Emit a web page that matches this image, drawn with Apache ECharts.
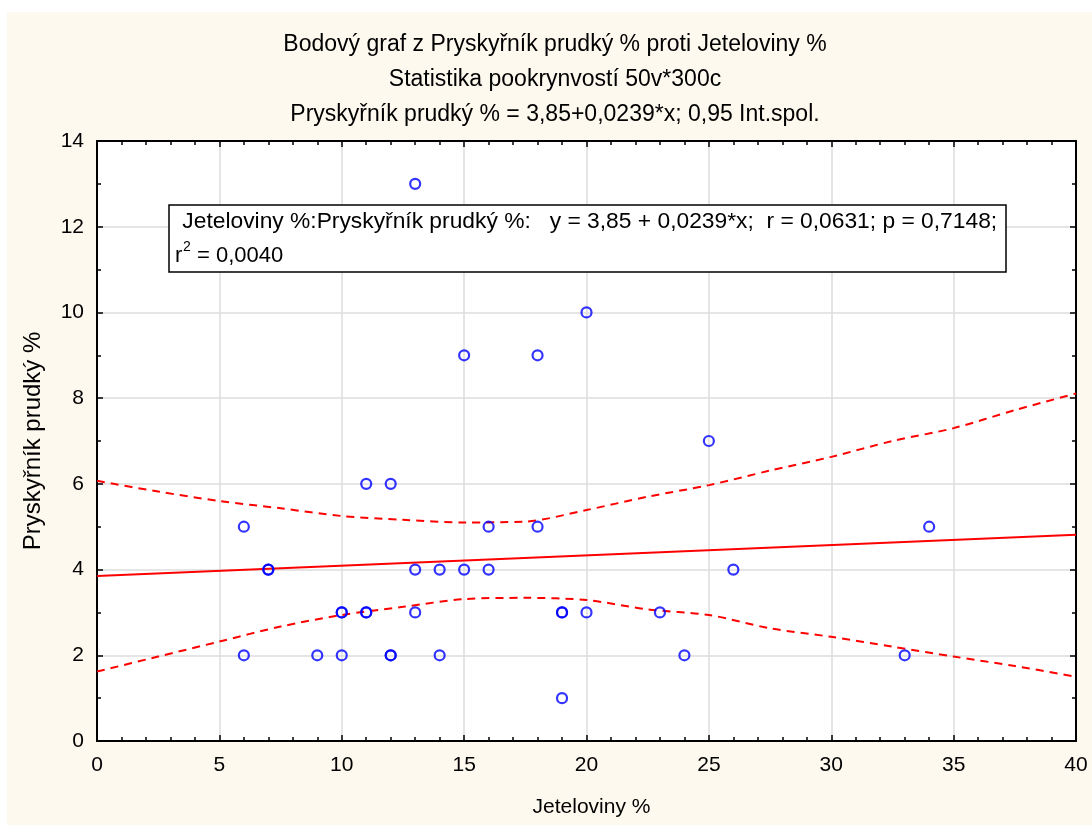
<!DOCTYPE html>
<html><head><meta charset="utf-8">
<script src="https://cdn.jsdelivr.net/npm/echarts@6/dist/echarts.min.js"></script>
<style>html,body{margin:0;padding:0;background:#fff}#c{width:1092px;height:828px}</style>
</head><body><div id="c"></div>
<script>
// Data
const jeteloviny = [13,20,15,18,25,11,12,6,16,18,34,7,7,13,14,15,16,26,10,10,11,11,13,19,19,20,23,6,9,10,12,12,14,24,33,19];
const pryskyrnik = [13,10,9,9,7,6,6,5,5,5,5,4,4,4,4,4,4,4,3,3,3,3,3,3,3,3,3,2,2,2,2,2,2,2,2,1];
const fitX = [0, 40];
const fitY = [3.85, 4.81];
const bandX = [0, 2.5, 5, 7.5, 10, 12.5, 15, 17.5, 20, 22.5, 25, 27.5, 30, 32.5, 35, 37.5, 40];
const bandUpper = [6.07, 5.82, 5.60, 5.43, 5.25, 5.16, 5.10, 5.12, 5.39, 5.70, 5.97, 6.31, 6.63, 7.00, 7.30, 7.72, 8.11];
const bandLower = [1.62, 1.97, 2.32, 2.67, 2.94, 3.13, 3.31, 3.34, 3.29, 3.07, 2.94, 2.63, 2.43, 2.20, 1.97, 1.75, 1.50];
const xTicks = ['0','5','10','15','20','25','30','35','40'];
const yTicks = ['0','2','4','6','8','10','12','14'];
const titleLines = ['Bodový graf z Pryskyřník prudký % proti Jeteloviny %','Statistika pookrynvostí 50v*300c','Pryskyřník prudký % = 3,85+0,0239*x; 0,95 Int.spol.'];
const boxLine1 = ' Jeteloviny %:Pryskyřník prudký %:   y = 3,85 + 0,0239*x;  r = 0,0631; p = 0,7148;';

const FF = '"Liberation Sans", Arial, sans-serif';
const chart = echarts.init(document.getElementById('c'));
const zip = (a, b) => a.map((v, i) => [v, b[i]]);
const axisCommon = {
  type: 'value', min: 0,
  axisLine: {show: true, onZero: false, lineStyle: {color: '#000', width: 2}},
  axisTick: {show: true, inside: true, length: 6, lineStyle: {color: '#000', width: 1.5}},
  minorTick: {show: true, length: 4, lineStyle: {color: '#000', width: 1.5}}
};
chart.setOption({
  backgroundColor: '#ffffff',
  animation: false,
  textStyle: {fontFamily: FF},
  graphic: [
    {type: 'rect', z: -100, silent: true, shape: {x: 7, y: 12, width: 1085, height: 813}, style: {fill: '#fef9ef'}},
    {type: 'text', z: 100, x: 555, y: 45, style: {text: titleLines[0], font: '23px ' + FF, fill: '#000', align: 'center', verticalAlign: 'middle'}},
    {type: 'text', z: 100, x: 555, y: 80, style: {text: titleLines[1], font: '23px ' + FF, fill: '#000', align: 'center', verticalAlign: 'middle'}},
    {type: 'text', z: 100, x: 555, y: 115, style: {text: titleLines[2], font: '23px ' + FF, fill: '#000', align: 'center', verticalAlign: 'middle'}},
    {type: 'rect', z: 100, shape: {x: 169, y: 205, width: 837, height: 67}, style: {fill: '#fff', stroke: '#000', lineWidth: 1.5}},
    {type: 'text', z: 101, x: 176, y: 222, style: {text: boxLine1, font: '22.8px ' + FF, fill: '#000', verticalAlign: 'middle'}},
    {type: 'text', z: 101, x: 175, y: 256, style: {text: 'r', font: '22px ' + FF, fill: '#000', verticalAlign: 'middle'}},
    {type: 'text', z: 101, x: 183, y: 247, style: {text: '2', font: '14px ' + FF, fill: '#000', verticalAlign: 'middle'}},
    {type: 'text', z: 101, x: 197, y: 256, style: {text: '= 0,0040', font: '22px ' + FF, fill: '#000', verticalAlign: 'middle'}}
  ],
  grid: {left: 97, right: 16, top: 141, bottom: 87, show: true, backgroundColor: '#fff', borderWidth: 0, containLabel: false},
  xAxis: [
    Object.assign({}, axisCommon, {
      position: 'bottom', max: 40, interval: 5,
      minorTick: Object.assign({}, axisCommon.minorTick, {splitNumber: 5}),
      axisLabel: {color: '#000', fontSize: 21, margin: 14, fontFamily: FF, formatter: v => xTicks[Math.round(v / 5)]},
      splitLine: {show: true, lineStyle: {color: '#dcdcdc', width: 1.5}},
      name: 'Jeteloviny %', nameLocation: 'middle', nameGap: 56,
      nameTextStyle: {color: '#000', fontSize: 21, fontFamily: FF, padding: [0, 0, 0, 10]}
    }),
    Object.assign({}, axisCommon, {
      position: 'top', max: 40, interval: 5,
      minorTick: Object.assign({}, axisCommon.minorTick, {splitNumber: 5}),
      axisLabel: {show: false}, splitLine: {show: false}
    })
  ],
  yAxis: [
    Object.assign({}, axisCommon, {
      position: 'left', max: 14, interval: 2,
      minorTick: Object.assign({}, axisCommon.minorTick, {splitNumber: 2}),
      axisLabel: {color: '#000', fontSize: 21, margin: 13, fontFamily: FF, formatter: v => yTicks[Math.round(v / 2)]},
      splitLine: {show: true, lineStyle: {color: '#dcdcdc', width: 1.5}},
      name: 'Pryskyřník prudký %', nameLocation: 'middle', nameGap: 52,
      nameTextStyle: {color: '#000', fontSize: 24, fontFamily: FF}
    }),
    Object.assign({}, axisCommon, {
      position: 'right', max: 14, interval: 2,
      minorTick: Object.assign({}, axisCommon.minorTick, {splitNumber: 2}),
      axisLabel: {show: false}, splitLine: {show: false}
    })
  ],
  series: [
    {type: 'line', data: zip(bandX, bandUpper), smooth: 0.3, showSymbol: false, lineStyle: {color: '#ff0000', width: 2, type: [8, 6]}, z: 3},
    {type: 'line', data: zip(bandX, bandLower), smooth: 0.3, showSymbol: false, lineStyle: {color: '#ff0000', width: 2, type: [8, 6]}, z: 3},
    {type: 'line', data: zip(fitX, fitY), showSymbol: false, lineStyle: {color: '#ff0000', width: 2}, z: 3},
    {type: 'scatter', data: zip(jeteloviny, pryskyrnik), symbol: 'circle', symbolSize: 10,
     itemStyle: {color: 'rgba(255,255,255,0)', borderColor: '#0000ff', borderWidth: 2.2}, z: 4}
  ]
});
</script></body></html>
